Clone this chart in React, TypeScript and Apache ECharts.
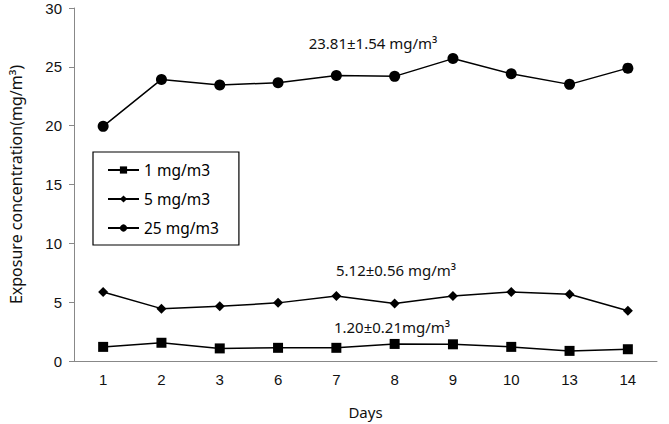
import React, { useEffect, useRef } from "react";
import * as echarts from "echarts";

const days = ["1", "2", "3", "6", "7", "8", "9", "10", "13", "14"];
const series1 = [1.2, 1.55, 1.07, 1.12, 1.12, 1.45, 1.42, 1.2, 0.86, 1.0];
const series5 = [5.87, 4.45, 4.65, 4.94, 5.52, 4.88, 5.52, 5.87, 5.67, 4.27];
const series25 = [19.94, 23.93, 23.46, 23.65, 24.27, 24.19, 25.7, 24.41, 23.51, 24.89];
const seriesNames = ["1 mg/m3", "5 mg/m3", "25 mg/m3"];
const annotations = ["23.81±1.54 mg/m³", "5.12±0.56 mg/m³", "1.20±0.21mg/m³"];

export default function App() {
  const ref = useRef<HTMLDivElement>(null);
  useEffect(() => {
    if (!ref.current) return;
    const chart = echarts.init(ref.current, null, { renderer: "svg" });
    const mk = (name: string, data: number[], symbol: string, size: number) => ({
      name,
      type: "line",
      data,
      symbol,
      symbolSize: size,
      showAllSymbol: true,
      lineStyle: { color: "#000", width: 1.5 },
      itemStyle: { color: "#000" },
      emphasis: { disabled: true },
    });
    const annoStyle = { fontFamily: "Noto Sans", fontSize: 15, fill: "#111", textAlign: "center", textVerticalAlign: "middle" };
    chart.setOption({
      animation: false,
      grid: { left: 68, right: 12, top: 8, bottom: 62 },
      legend: {
        orient: "vertical",
        left: 93,
        top: 152,
        padding: [10, 20, 9, 14],
        borderColor: "#000",
        borderWidth: 1.2,
        itemWidth: 31,
        itemHeight: 9,
        itemGap: 13,
        textStyle: { fontFamily: "Noto Sans", fontSize: 15.5, color: "#000" },
        data: seriesNames,
      },
      xAxis: {
        type: "category",
        data: days,
        boundaryGap: true,
        axisLine: { lineStyle: { color: "#888", width: 1 } },
        axisTick: { show: false },
        axisLabel: { fontFamily: "Liberation Sans", fontSize: 15, color: "#111", margin: 11 },
        name: "Days",
        nameLocation: "middle",
        nameGap: 43,
        nameTextStyle: { fontFamily: "Noto Sans", fontSize: 15, color: "#111" },
      },
      yAxis: {
        type: "value",
        min: 0,
        max: 30,
        interval: 5,
        splitLine: { show: false },
        axisLine: { show: true, lineStyle: { color: "#888", width: 1 } },
        axisTick: { show: true, length: 5, lineStyle: { color: "#888" } },
        axisLabel: { fontFamily: "Liberation Sans", fontSize: 15, color: "#111", margin: 12 },
        name: "Exposure concentration(mg/m³)",
        nameLocation: "middle",
        nameGap: 50,
        nameTextStyle: { fontFamily: "Noto Sans", fontSize: 16, color: "#111" },
      },
      graphic: [
        { type: "text", x: 373, y: 43, style: { text: annotations[0], ...annoStyle } },
        { type: "text", x: 396, y: 270, style: { text: annotations[1], ...annoStyle } },
        { type: "text", x: 392, y: 327, style: { text: annotations[2], ...annoStyle } },
      ],
      series: [
        mk(seriesNames[0], series1, "rect", 10),
        mk(seriesNames[1], series5, "diamond", 10),
        mk(seriesNames[2], series25, "circle", 11),
      ],
    });
    return () => chart.dispose();
  }, []);
  return <div ref={ref} style={{ width: 669, height: 424, position: "absolute", left: 0, top: 0 }} />;
}
